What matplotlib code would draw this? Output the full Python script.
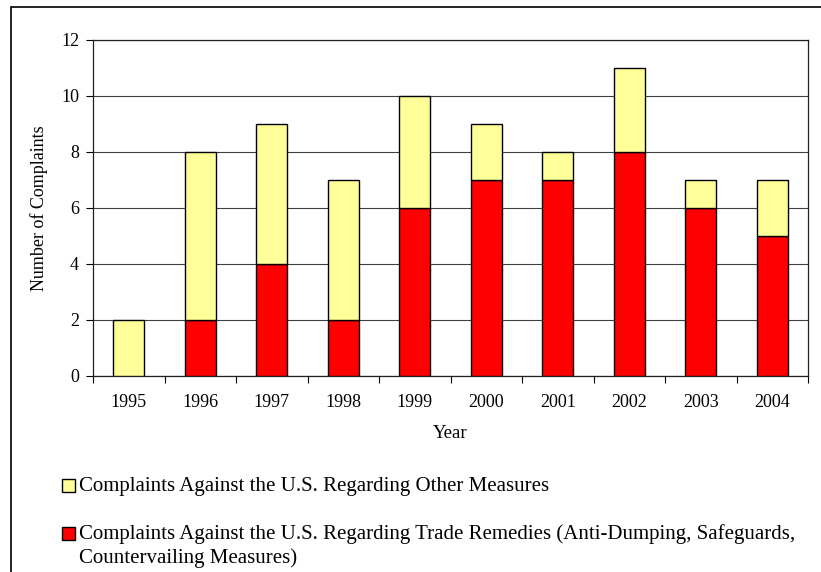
import numpy as np
import matplotlib
matplotlib.use("Agg")
import matplotlib.pyplot as plt
from matplotlib.patches import Rectangle

plt.rcParams['font.family'] = ['Liberation Serif', 'DejaVu Serif']

years = ["1995", "1996", "1997", "1998", "1999", "2000", "2001", "2002", "2003", "2004"]
trade_remedies = [0, 2, 4, 2, 6, 7, 7, 8, 6, 5]
other_measures = [2, 6, 5, 5, 4, 2, 1, 3, 1, 2]

label_other = ["Complaints Against the U.S. Regarding Other Measures"]
label_trade = ["Complaints Against the U.S. Regarding Trade Remedies (Anti-Dumping, Safeguards,",
               "Countervailing Measures)"]

red = "#ff0000"
yellow = "#ffff99"

fig = plt.figure(figsize=(8.21, 5.72), dpi=100)
W, H = 821, 572
ax = fig.add_axes([93 / W, 1 - 376 / H, (808 - 93) / W, (376 - 40) / H])

x = np.arange(len(years))
ax.bar(x, trade_remedies, width=0.44, color=red, edgecolor="black", linewidth=1.0, zorder=3)
ax.bar(x, other_measures, width=0.44, bottom=trade_remedies, color=yellow,
       edgecolor="black", linewidth=1.0, zorder=3)

ax.set_xlim(-0.5, len(years) - 0.5)
ax.set_ylim(0, 12)
ax.set_yticks(range(0, 13, 2))
ax.yaxis.grid(True, color="#404040", linewidth=0.8, zorder=0)
ax.set_xticks(x)
ax.set_xticklabels(years)
ax.set_xticks(np.arange(-0.5, len(years), 1), minor=True)
ax.tick_params(axis="x", which="major", length=0, pad=13, labelsize=13)
ax.tick_params(axis="x", which="minor", length=5, direction="out", width=0.8)
ax.tick_params(axis="y", length=5, direction="out", width=0.8, pad=5, labelsize=13)
for s in ax.spines.values():
    s.set_linewidth(0.9)
    s.set_color("#202020")

ax.set_xlabel("Year", fontsize=13.5, labelpad=10)
ax.set_ylabel("Number of Complaints", fontsize=13, labelpad=9)

# legend drawn by hand so the square sits on the first text line
legend_items = [(yellow, label_other, 491), (red, label_trade, 539)]
for color, lines, base in legend_items:
    fig.patches.append(Rectangle((62 / W, 1 - (base + 0.5) / H), 13 / W, 13 / H,
                                 transform=fig.transFigure, facecolor=color,
                                 edgecolor="black", linewidth=1.0))
    for i, line in enumerate(lines):
        fig.text(79 / W, 1 - (base + 24 * i) / H, line, fontsize=15,
                 va="baseline", ha="left")

# outer border of the chart
fig.patches.append(Rectangle((11 / W, -0.05), 1.2, 1 - 7 / H + 0.05,
                             transform=fig.transFigure, fill=False,
                             edgecolor="black", linewidth=1.2))

fig.savefig("out.png", dpi=100)
